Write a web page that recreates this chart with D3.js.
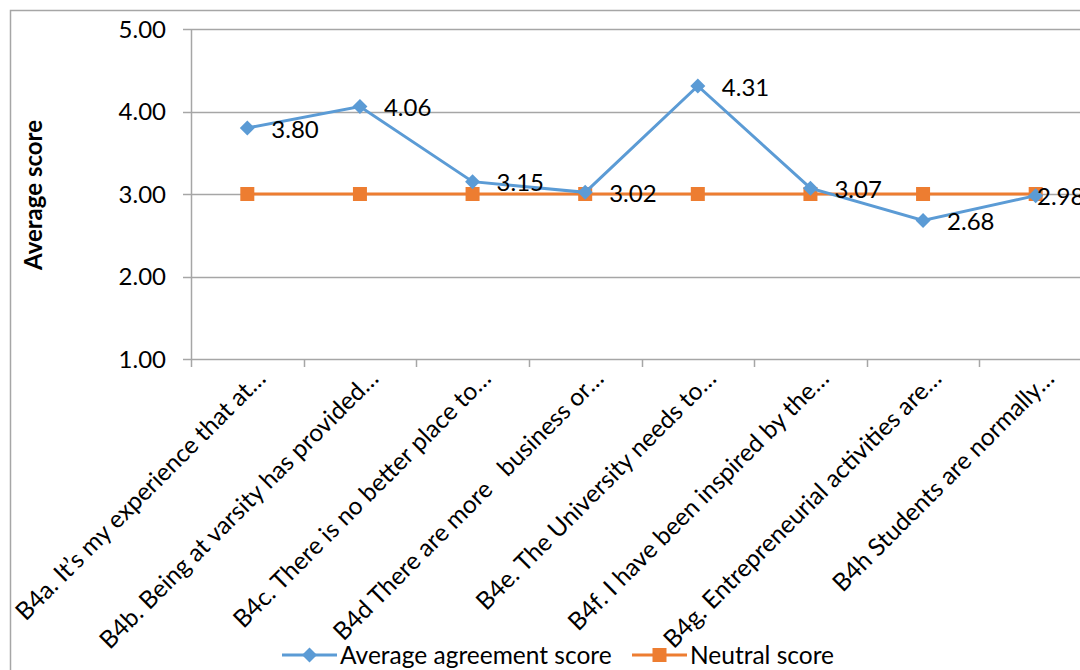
<!DOCTYPE html>
<html>
<head>
<meta charset="utf-8">
<script src="https://cdn.jsdelivr.net/npm/d3@7"></script>
<style>
  body { margin: 0; background: #fff; }
  svg { display: block; font-family: Lato, "Open Sans", sans-serif; }
</style>
</head>
<body>
<div id="chart"></div>
<script>
var categories = [
    "B4a. It\u2019s my experience that at\u2026",
    "B4b. Being at varsity has provided\u2026",
    "B4c. There is no better place to\u2026",
    "B4d There are more   business or\u2026",
    "B4e. The University needs to\u2026",
    "B4f. I have been inspired by the\u2026",
    "B4g. Entrepreneurial activities are\u2026",
    "B4h Students are normally\u2026"
];
var agreement = [3.80, 4.06, 3.15, 3.02, 4.31, 3.07, 2.68, 2.98];
var neutral = [3, 3, 3, 3, 3, 3, 3, 3];
var yTicks = [1, 2, 3, 4, 5];

var blue = "#5b9bd5", orange = "#ed7d31";

var svg = d3.select("#chart").append("svg")
    .attr("width", 1080)
    .attr("height", 670);

// outer border of the chart (runs off the right and bottom of the picture)
svg.append("rect")
    .attr("x", 10.5).attr("y", 10.5)
    .attr("width", 1100).attr("height", 700)
    .style("fill", "none")
    .style("stroke", "#a6a6a6")
    .style("stroke-width", "1.5px");

var plotLeft = 191, plotRight = 1092, plotTop = 29, plotBottom = 359;

var x = d3.scaleBand()
    .domain(categories)
    .range([plotLeft, plotRight]);

var y = d3.scaleLinear()
    .domain([1, 5])
    .range([plotBottom, plotTop]);

// gridlines
svg.append("g")
    .selectAll("line")
    .data(yTicks)
    .enter()
    .append("line")
    .attr("x1", plotLeft - 8)
    .attr("x2", plotRight)
    .attr("y1", function (d) { return Math.round(y(d)) + 0.5; })
    .attr("y2", function (d) { return Math.round(y(d)) + 0.5; })
    .style("stroke", "#a6a6a6")
    .style("stroke-width", "1.5px");

// y axis line
svg.append("line")
    .attr("x1", plotLeft + 0.5).attr("x2", plotLeft + 0.5)
    .attr("y1", plotTop).attr("y2", plotBottom + 8)
    .style("stroke", "#a6a6a6")
    .style("stroke-width", "1.5px");

// y tick labels
svg.append("g")
    .selectAll("text")
    .data(yTicks)
    .enter()
    .append("text")
    .attr("x", 166)
    .attr("y", function (d) { return y(d); })
    .attr("dy", "0.36em")
    .attr("text-anchor", "end")
    .style("font-size", "24px")
    .style("fill", "#000")
    .text(function (d) { return d.toFixed(2); });

// x ticks
svg.append("g")
    .selectAll("line")
    .data(categories)
    .enter()
    .append("line")
    .attr("x1", function (d) { return Math.round(x(d) + x.bandwidth()) + 0.5; })
    .attr("x2", function (d) { return Math.round(x(d) + x.bandwidth()) + 0.5; })
    .attr("y1", plotBottom)
    .attr("y2", plotBottom + 8)
    .style("stroke", "#a6a6a6")
    .style("stroke-width", "1.5px");

// category labels, rotated
svg.append("g")
    .selectAll("text")
    .data(categories)
    .enter()
    .append("text")
    .attr("transform", function (d) {
        return "translate(" + (x(d) + x.bandwidth() / 2 + 20) + "," + 380 + ") rotate(-45)";
    })
    .attr("text-anchor", "end")
    .style("font-size", "24.5px")
    .style("fill", "#000")
    .style("white-space", "pre")
    .text(function (d) { return d; });

// y axis title
svg.append("text")
    .attr("transform", "translate(42,195) rotate(-90)")
    .attr("text-anchor", "middle")
    .style("font-size", "24px")
    .style("font-weight", "bold")
    .style("fill", "#000")
    .text("Average score");

function cx(i) { return x(categories[i]) + x.bandwidth() / 2; }

var line = d3.line()
    .x(function (d, i) { return cx(i); })
    .y(function (d) { return y(d); });

// neutral series
svg.append("path")
    .datum(neutral)
    .attr("d", line)
    .style("fill", "none")
    .style("stroke", orange)
    .style("stroke-width", "3px");

svg.append("g")
    .selectAll("rect")
    .data(neutral)
    .enter()
    .append("rect")
    .attr("x", function (d, i) { return cx(i) - 7; })
    .attr("y", function (d) { return y(d) - 7; })
    .attr("width", 14)
    .attr("height", 14)
    .style("fill", orange);

// agreement series
svg.append("path")
    .datum(agreement)
    .attr("d", line)
    .style("fill", "none")
    .style("stroke", blue)
    .style("stroke-width", "3px");

var diamond = "M0,-7.5L7.5,0L0,7.5L-7.5,0Z";

svg.append("g")
    .selectAll("path")
    .data(agreement)
    .enter()
    .append("path")
    .attr("d", diamond)
    .attr("transform", function (d, i) { return "translate(" + cx(i) + "," + y(d) + ")"; })
    .style("fill", blue);

// data labels (the last one is pushed left, near the chart edge)
svg.append("g")
    .selectAll("text")
    .data(agreement)
    .enter()
    .append("text")
    .attr("x", function (d, i) { return Math.min(cx(i) + 24, 1037); })
    .attr("y", function (d) { return y(d) + 1; })
    .attr("dy", "0.36em")
    .style("font-size", "24px")
    .style("fill", "#000")
    .text(function (d) { return d.toFixed(2); });

// legend
var legend = svg.append("g");
var items = [
    {name: "Average agreement score", color: blue, x0: 282, shape: "diamond"},
    {name: "Neutral score", color: orange, x0: 632, shape: "square"}
];
items.forEach(function (it) {
    var g = legend.append("g").attr("transform", "translate(" + it.x0 + ",655)");
    g.append("line")
        .attr("x1", 0).attr("x2", 55)
        .style("stroke", it.color)
        .style("stroke-width", "3px");
    if (it.shape === "diamond") {
        g.append("path").attr("d", diamond).attr("transform", "translate(27.5,0)").style("fill", it.color);
    } else {
        g.append("rect").attr("x", 20.5).attr("y", -7).attr("width", 14).attr("height", 14).style("fill", it.color);
    }
    g.append("text")
        .attr("x", 58)
        .attr("dy", "0.36em")
        .style("font-size", "24.5px")
        .style("fill", "#000")
        .text(it.name);
});
</script>
</body>
</html>
